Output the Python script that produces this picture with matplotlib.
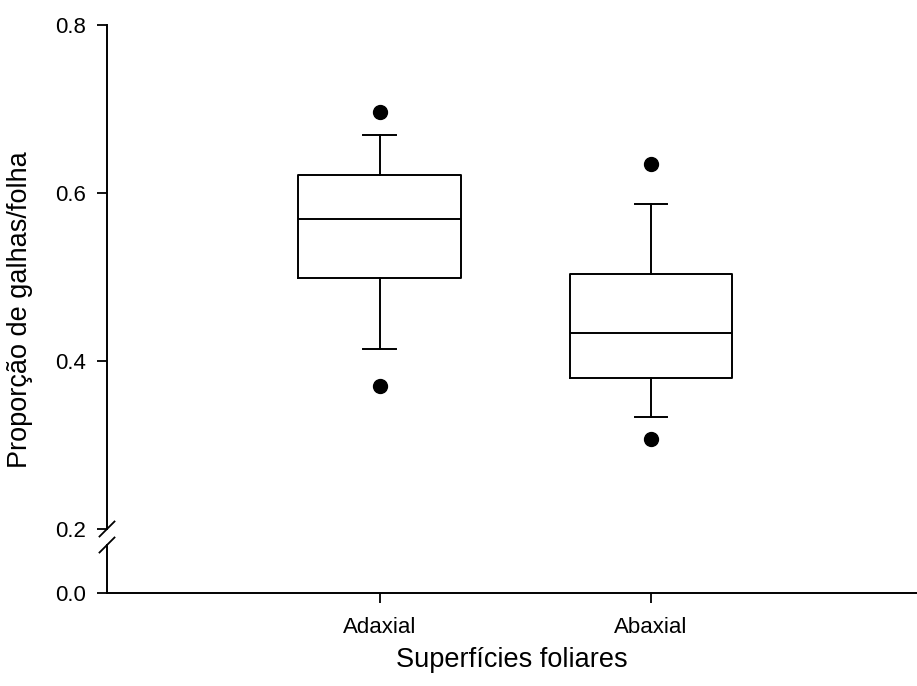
import matplotlib
matplotlib.use("Agg")
import matplotlib.pyplot as plt

# Dados
superficies = ["Adaxial", "Abaxial"]
q1 = [0.4985, 0.3798]
mediana = [0.5687, 0.4333]
q3 = [0.6210, 0.5032]
whisker_inf = [0.4147, 0.3330]
whisker_sup = [0.6687, 0.5873]
outliers = [[0.3706, 0.6960], [0.3075, 0.6340]]

plt.rcParams['font.family'] = ['Liberation Sans', 'DejaVu Sans']

W, H = 917, 686
fig = plt.figure(figsize=(W / 100, H / 100), dpi=100)

# eixo superior (0.2 - 0.8) e eixo inferior (apenas 0.0)
left, right = 107, 917
ax = fig.add_axes([left / W, (H - 529) / H, (right - left) / W, (529 - 25) / H])
ax0 = fig.add_axes([left / W, (H - 593) / H, (right - left) / W, (593 - 545) / H])

stats = []
for i in range(len(superficies)):
    stats.append({"med": mediana[i], "q1": q1[i], "q3": q3[i],
                  "whislo": whisker_inf[i], "whishi": whisker_sup[i],
                  "fliers": outliers[i], "label": superficies[i]})

lw = 1.4
ax.bxp(stats, positions=[1, 2], widths=0.6, capwidths=0.12,
       boxprops=dict(color="black", linewidth=lw),
       medianprops=dict(color="black", linewidth=lw),
       whiskerprops=dict(color="black", linewidth=lw),
       capprops=dict(color="black", linewidth=lw),
       flierprops=dict(marker="o", markerfacecolor="black", markeredgecolor="black",
                       markersize=10, linestyle="none"))

xlim = (-0.004, 2.98)
ax.set_xlim(*xlim)
ax.set_ylim(0.2, 0.8)
ax.set_yticks([0.2, 0.4, 0.6, 0.8])
ax.set_yticklabels(["0.2", "0.4", "0.6", "0.8"])
ax.set_xticks([])
for s in ["top", "right", "bottom"]:
    ax.spines[s].set_visible(False)

ax0.set_xlim(*xlim)
ax0.set_ylim(0, 48 / 840)
ax0.set_yticks([0.0])
ax0.set_yticklabels(["0.0"])
ax0.set_xticks([1, 2])
ax0.set_xticklabels(superficies)
for s in ["top", "right"]:
    ax0.spines[s].set_visible(False)

for a in (ax, ax0):
    a.patch.set_alpha(0)
    a.spines["left"].set_linewidth(1.4)
    a.spines["bottom"].set_linewidth(1.4)
    a.tick_params(axis="y", length=7, width=1.3, labelsize=16, pad=8)
    a.tick_params(axis="x", length=7, width=1.3, labelsize=16, pad=10)

# marcas de quebra do eixo
dx = 7.5 / (right - left)
kw = dict(color="black", linewidth=1.3, clip_on=False)
dy = 7.5 / (529 - 25)
ax.plot([-dx, dx], [-dy, dy], transform=ax.transAxes, **kw)
dy0 = 7.5 / 48
ax0.plot([-dx, dx], [1 - dy0, 1 + dy0], transform=ax0.transAxes, **kw)

fig.text((left + (right - left) * 0.5) / W, 1 - 660 / H,
         "Superfícies foliares", ha="center", va="center", fontsize=19.5)
fig.text(20 / W, 1 - 310 / H, "Proporção de galhas/folha", rotation=90,
         ha="center", va="center", fontsize=19.5)

fig.savefig("out.png", dpi=100)
